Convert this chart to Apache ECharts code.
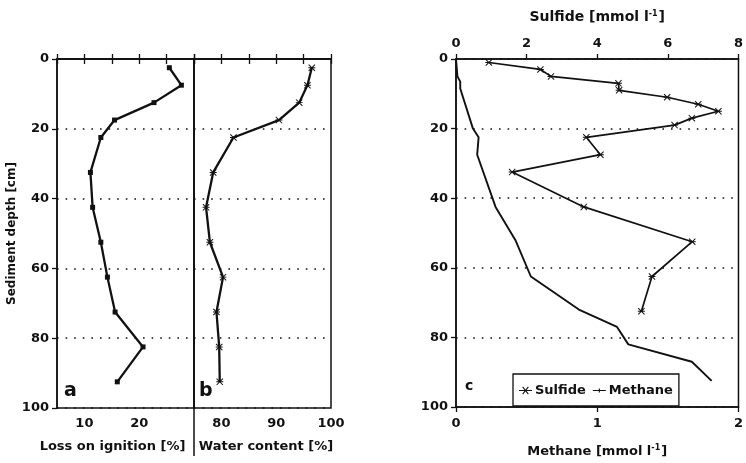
<!DOCTYPE html>
<html>
<head>
<meta charset="utf-8">
<script src="https://cdn.jsdelivr.net/npm/echarts@6/dist/echarts.min.js"></script>
<style>
  html, body { margin: 0; padding: 0; background: #fff; }
  #chart { width: 746px; height: 463px; }
</style>
</head>
<body>
<div id="chart"></div>
<script>
// Sediment core profiles: loss on ignition, water content, pore-water sulfide and methane
const coreDepths = [2.5, 7.5, 12.5, 17.5, 22.5, 32.5, 42.5, 52.5, 62.5, 72.5, 82.5, 92.5];
const lossOnIgnition = [25.5, 27.7, 22.7, 15.5, 13.0, 11.1, 11.5, 13.0, 14.2, 15.6, 20.7, 16.0];
const waterContent = [96.5, 95.7, 94.2, 90.5, 82.2, 78.5, 77.2, 77.9, 80.3, 79.1, 79.6, 79.7];

const sulfideDepths = [1, 3, 5, 7, 9, 11, 13, 15, 17, 19, 22.5, 27.5, 32.5, 42.5, 52.5, 62.5, 72.5];
const sulfide = [0.93, 2.39, 2.69, 4.6, 4.62, 5.98, 6.86, 7.43, 6.68, 6.19, 3.69, 4.09, 1.59, 3.62, 6.69, 5.55, 5.25];

const methaneDepths = [0, 5, 6.5, 8.5, 20, 22.5, 27.5, 42.5, 52, 62.5, 72, 77, 82, 87, 92.5];
const methane = [0, 0.01, 0.03, 0.03, 0.12, 0.16, 0.15, 0.28, 0.42, 0.53, 0.87, 1.14, 1.22, 1.67, 1.81];

const depthTicks = [0, 20, 40, 60, 80, 100];
const lossLabels = [10, 20];
const waterLabels = [80, 90, 100];

const INK = '#111';
const FONT = 'DejaVu Sans';
const STAR = 'path://M0,1L1,0L10,9L9,10Z M9,0L10,1L1,10L0,9Z M0,4.3L10,4.3L10,5.7L0,5.7Z';
// legend keys: a short line with an asterisk / with a small tick
const KEY_SULFIDE = 'path://M0,4.4L16,4.4L16,5.6L0,5.6Z M4,1L5,0L12,9L11,10Z M11,0L12,1L5,10L4,9Z';
const KEY_METHANE = 'path://M0,4.4L16,4.4L16,5.6L0,5.6Z M7.3,2.5L8.7,2.5L8.7,7.5L7.3,7.5Z';

const pairs = (xs, ys) => xs.map((x, i) => [x, ys[i]]);

const labelStyle = { color: INK, fontFamily: FONT, fontWeight: 'bold', fontSize: 13 };
const nameStyle = { color: INK, fontFamily: FONT, fontWeight: 'bold', fontSize: 13 };
const axisLine = { show: true, lineStyle: { color: INK, width: 1.5 } };
const tick = { show: true, length: 5, lineStyle: { color: INK, width: 1.3 } };
const dotted = { show: true, lineStyle: { color: INK, width: 1.6, type: [1.6, 7] } };

function depthAxis(grid, showLabels) {
  return {
    gridIndex: grid, type: 'value', inverse: true, min: 0, max: 100, interval: 20,
    axisLine: axisLine,
    axisTick: showLabels ? tick : { show: false },
    axisLabel: { show: showLabels, margin: 8, ...labelStyle, formatter: v => depthTicks.includes(v) ? String(v) : '' },
    splitLine: dotted
  };
}

function supRich(size) {
  return {
    t: { ...nameStyle, fontSize: size },
    s: { ...nameStyle, fontSize: 8, padding: [0, 1, 7, 0] }
  };
}

const option = {
  animation: false,
  backgroundColor: '#fff',
  textStyle: { fontFamily: FONT },
  grid: [
    { left: 57, top: 59, width: 137, height: 349, show: true, borderColor: INK, borderWidth: 1.5 },
    { left: 194, top: 59, width: 137, height: 349, show: true, borderColor: INK, borderWidth: 1.5 },
    { left: 456, top: 59, width: 283, height: 349, show: true, borderColor: INK, borderWidth: 1.5 }
  ],
  xAxis: [
    {
      gridIndex: 0, type: 'value', position: 'bottom', min: 5, max: 30, interval: 5,
      name: 'Loss on ignition [%]', nameLocation: 'middle', nameGap: 32,
      nameTextStyle: { ...nameStyle, padding: [0, 26, 0, 0] },
      axisLine: axisLine, axisTick: tick, splitLine: { show: false },
      axisLabel: { margin: 9, ...labelStyle, formatter: v => lossLabels.includes(v) ? String(v) : '' }
    },
    {
      gridIndex: 0, type: 'value', position: 'top', min: 5, max: 30, interval: 5,
      axisLine: axisLine, axisTick: tick, splitLine: { show: false }, axisLabel: { show: false }
    },
    {
      gridIndex: 1, type: 'value', position: 'bottom', min: 75, max: 100, interval: 5,
      name: 'Water content [%]', nameLocation: 'middle', nameGap: 32,
      nameTextStyle: { ...nameStyle, padding: [0, 0, 0, 7] },
      axisLine: axisLine, axisTick: tick, splitLine: { show: false },
      axisLabel: { margin: 9, ...labelStyle, formatter: v => waterLabels.includes(v) ? String(v) : '' }
    },
    {
      gridIndex: 1, type: 'value', position: 'top', min: 75, max: 100, interval: 5,
      axisLine: axisLine, axisTick: tick, splitLine: { show: false }, axisLabel: { show: false }
    },
    {
      gridIndex: 2, type: 'value', position: 'top', min: 0, max: 8, interval: 2,
      name: '{t|Sulfide [mmol l}{s|-1}{t|]}', nameLocation: 'middle', nameGap: 34,
      nameTextStyle: { rich: supRich(14) },
      axisLine: axisLine, axisTick: tick, splitLine: { show: false },
      axisLabel: { margin: 9, ...labelStyle }
    },
    {
      gridIndex: 2, type: 'value', position: 'bottom', min: 0, max: 2, interval: 1,
      name: '{t|Methane [mmol l}{s|-1}{t|]}', nameLocation: 'middle', nameGap: 37,
      nameTextStyle: { rich: supRich(13) },
      axisLine: axisLine, axisTick: tick, splitLine: { show: false },
      axisLabel: { margin: 10, ...labelStyle }
    }
  ],
  yAxis: [
    {
      ...depthAxis(0, true),
      name: 'Sediment depth [cm]', nameLocation: 'middle', nameGap: 36, nameRotate: 90,
      nameTextStyle: { ...nameStyle, fontSize: 12 }
    },
    depthAxis(1, false),
    depthAxis(2, true)
  ],
  legend: {
    data: [
      { name: 'Sulfide', icon: KEY_SULFIDE },
      { name: 'Methane', icon: KEY_METHANE }
    ],
    left: 513, top: 374,
    padding: [10, 6, 9, 6],
    itemWidth: 13, itemHeight: 9, itemGap: 7,
    borderColor: INK, borderWidth: 1.3,
    backgroundColor: '#fff',
    textStyle: { color: INK, fontFamily: FONT, fontWeight: 'bold', fontSize: 13, padding: [0, 0, 0, -2] }
  },
  series: [
    {
      type: 'line', xAxisIndex: 0, yAxisIndex: 0,
      data: pairs(lossOnIgnition, coreDepths),
      symbol: 'rect', symbolSize: 5,
      lineStyle: { color: INK, width: 2.3 }, itemStyle: { color: INK }
    },
    {
      type: 'line', xAxisIndex: 2, yAxisIndex: 1,
      data: pairs(waterContent, coreDepths),
      symbol: STAR, symbolSize: 7,
      lineStyle: { color: INK, width: 2.3 }, itemStyle: { color: INK }
    },
    {
      name: 'Sulfide', type: 'line', xAxisIndex: 4, yAxisIndex: 2,
      data: pairs(sulfide, sulfideDepths),
      symbol: STAR, symbolSize: 7,
      lineStyle: { color: INK, width: 1.7 }, itemStyle: { color: INK }
    },
    {
      name: 'Methane', type: 'line', xAxisIndex: 5, yAxisIndex: 2,
      data: pairs(methane, methaneDepths),
      symbol: 'none',
      lineStyle: { color: INK, width: 1.9 }, itemStyle: { color: INK }
    }
  ],
  graphic: [
    { type: 'line', shape: { x1: 194, y1: 408, x2: 194, y2: 456 }, style: { stroke: INK, lineWidth: 1.5 } },
    { type: 'text', left: 64, top: 382, style: { text: 'a', fill: INK, font: 'bold 19px ' + FONT } },
    { type: 'text', left: 199, top: 382, style: { text: 'b', fill: INK, font: 'bold 19px ' + FONT } },
    { type: 'text', left: 465, top: 379, style: { text: 'c', fill: INK, font: 'bold 14px ' + FONT } }
  ]
};

const chart = echarts.init(document.getElementById('chart'), null, { renderer: 'canvas' });
chart.setOption(option);
</script>
</body>
</html>
